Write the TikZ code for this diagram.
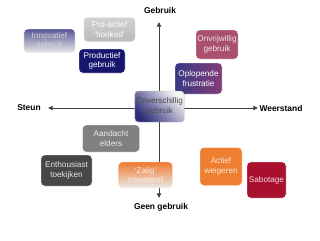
\documentclass[tikz,border=0pt]{standalone}
\usepackage{fontspec}
\setmainfont{Liberation Sans}
\usetikzlibrary{arrows.meta}
\definecolor{ruikaxis}{HTML}{404040}
\definecolor{ruiknavy}{HTML}{16166C}
\definecolor{ruikmauve}{HTML}{A8506E}
\definecolor{ruikpurple}{HTML}{843C7A}
\definecolor{ruikgray}{HTML}{808080}
\definecolor{ruikdark}{HTML}{474747}
\definecolor{ruikorange}{HTML}{EE7F30}
\definecolor{ruikred}{HTML}{A8102E}
\tikzset{
  mode/.style={rounded corners=3pt,align=center,inner sep=1pt,draw=white,line width=.4pt,
    font=\fontsize{7}{8.2}\selectfont},
  axis/.style={-{Triangle[length=1.4mm,width=1.3mm]},line width=.8pt,ruikaxis},
  pole/.style={font=\fontsize{7.2}{8}\selectfont\bfseries}
}

\begin{document}
\begin{tikzpicture}[x=0.03cm,y=-0.03cm]
  \useasboundingbox (0,0) rectangle (320,240);
  % assen
  \coordinate (o) at (159,108);
  \node[pole] (gebruik) at (160,10) {Gebruik};
  \node[pole] (geen) at (161,207) {Geen gebruik};
  \node[pole] (steun) at (29,108) {Steun};
  \node[pole] (weer) at (281,108) {Weerstand};
  \coordinate (top) at (159,22);
  \coordinate (bot) at (159,198);
  \coordinate (left) at (48,108);
  \coordinate (right) at (258,108);
  \draw[axis] (o) -- (top);
  \draw[axis] (o) -- (bot);
  \draw[axis] (o) -- (left);
  \draw[axis] (o) -- (right);
  % gebruik
  \node[mode,top color=ruiknavy!72!white,bottom color=black!8,text=black!18,
    minimum width=1.53cm,minimum height=.72cm] (innov) at (49.5,41) {Innovatief\\gebruik};
  \node[mode,top color=black!18,bottom color=black!27,text=white,draw=black!12,
    minimum width=1.53cm,minimum height=.72cm] (proactief) at (109.5,29.5) {Pro-actief\\`hooked'};
  \node[mode,fill=ruiknavy,text=white,
    minimum width=1.38cm,minimum height=.72cm] (productief) at (102,61) {Productief\\gebruik};
  \node[mode,fill=ruikmauve,text=ruikmauve!15!white,
    minimum width=1.26cm,minimum height=.87cm] (onvrij) at (217,44.5) {Onvrijwillig\\gebruik};
  \node[mode,left color=ruiknavy!85!white,right color=ruikpurple,text=white,
    minimum width=1.41cm,minimum height=.93cm] (oplopend) at (198.5,78.5) {Oplopende\\frustratie};
  \node[mode,top color=black!4,bottom color=ruiknavy!90!white,shading angle=-45,
    text=black!70,draw=black!30,
    minimum width=1.47cm,minimum height=.93cm] (onversch) at (159.5,106.5) {Onverschillig\\gebruik};
  % geen gebruik
  \node[mode,fill=ruikgray,text=black!8,
    minimum width=1.71cm,minimum height=.81cm] (aandacht) at (111,138.5) {Aandacht\\elders};
  \node[mode,fill=ruikdark,text=black!10,
    minimum width=1.53cm,minimum height=.93cm] (enthousiast) at (66.5,170.5) {Enthousiast\\toekijken};
  \node[mode,top color=ruikorange!95!red,bottom color=black!8,text=ruikorange!12!white,
    minimum width=1.62cm,minimum height=.78cm] (zalig) at (145.5,175) {`Zalig'\\onwetend};
  \node[mode,fill=ruikorange,text=ruikorange!20!white,
    minimum width=1.26cm,minimum height=1.14cm] (actief) at (221,166.5) {Actief\\weigeren};
  \node[mode,fill=ruikred,text=ruikred!15!white,
    minimum width=1.17cm,minimum height=1.08cm] (sabotage) at (266.5,180) {Sabotage};
\end{tikzpicture}
\end{document}
